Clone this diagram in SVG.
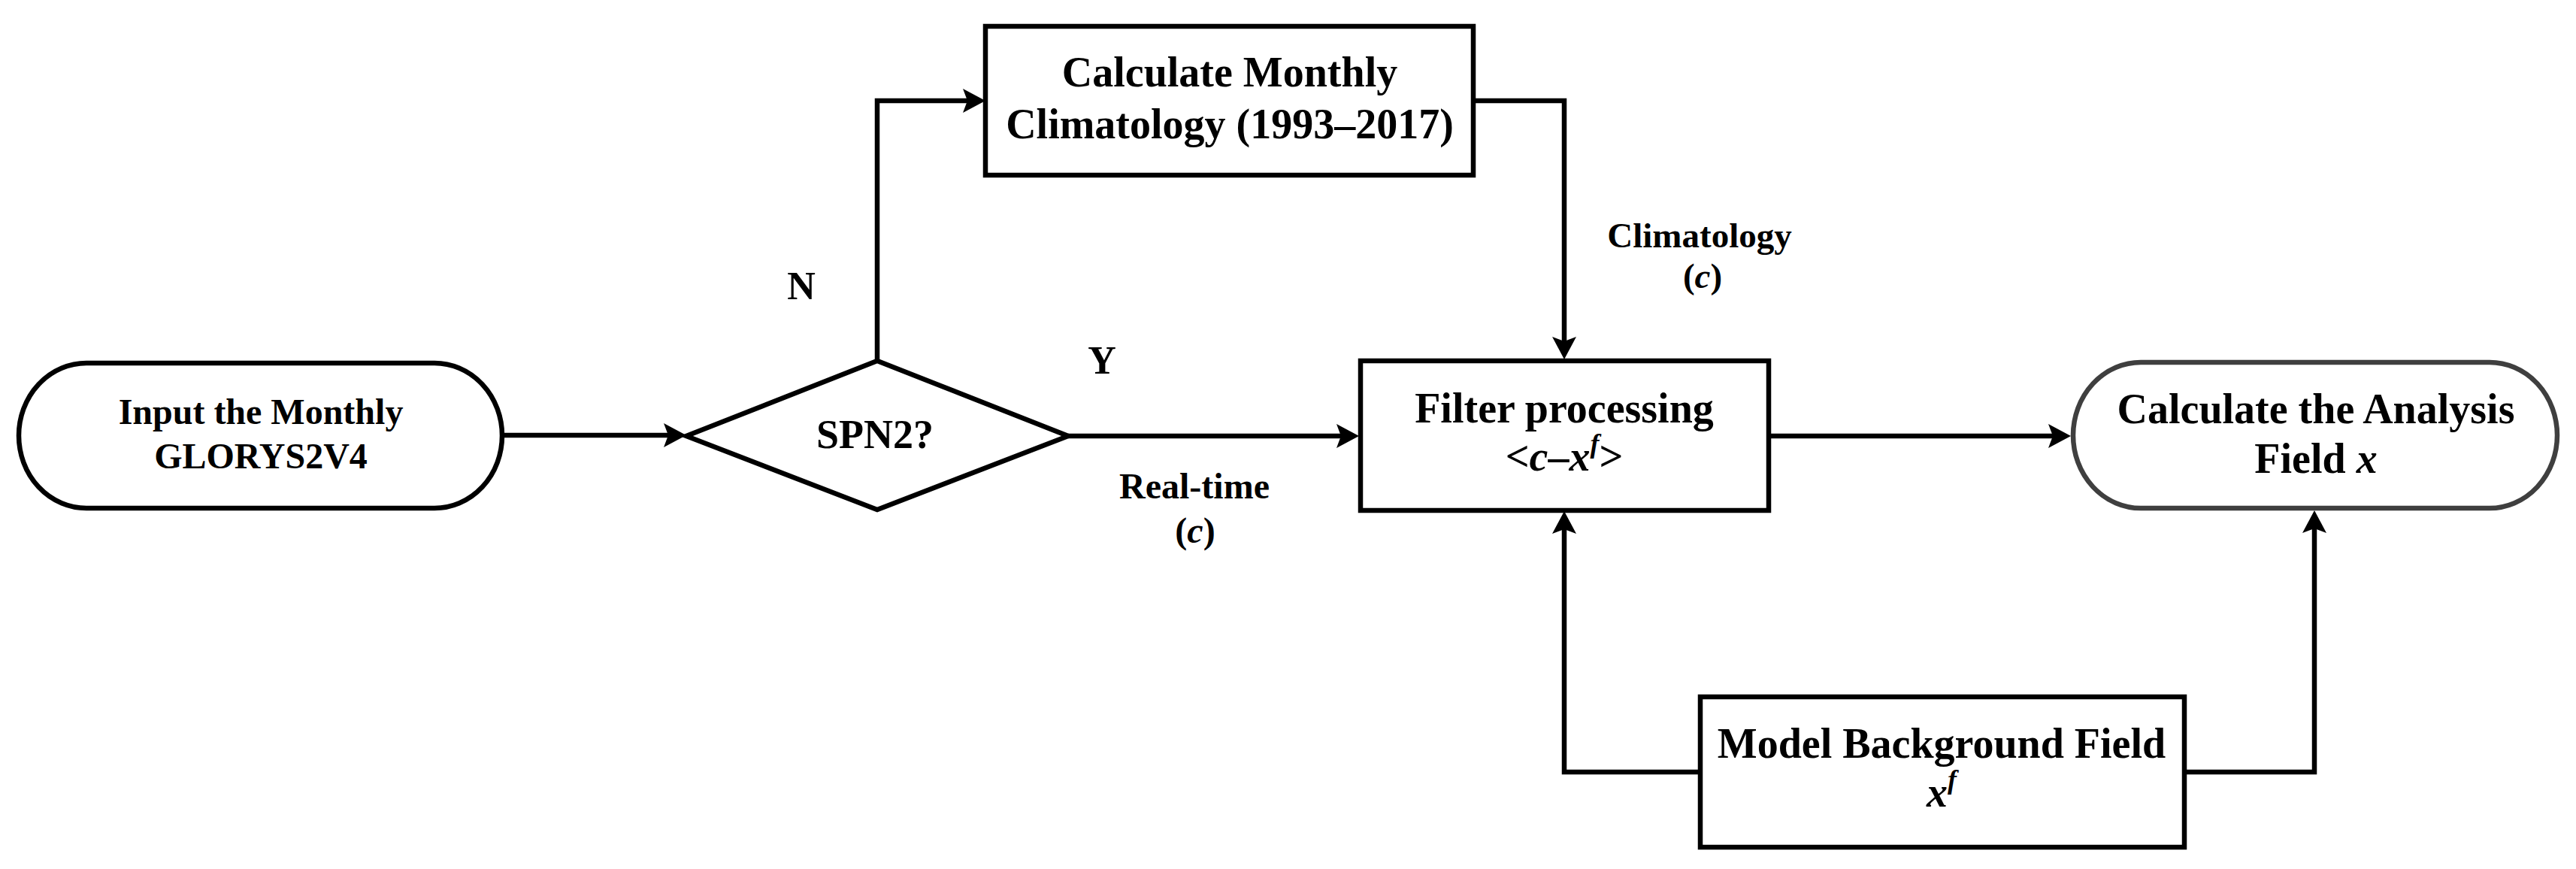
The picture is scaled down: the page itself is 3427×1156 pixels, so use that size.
<svg xmlns="http://www.w3.org/2000/svg" width="3427" height="1156" viewBox="0 0 3427 1156">
<style>
.shape{fill:#ffffff;stroke:#000000;stroke-width:6.5;stroke-linejoin:miter}
.gray{stroke:#3f3f3f}
.t{font-family:"Liberation Serif","Times New Roman",serif;font-weight:bold;fill:#000000;text-anchor:middle}
.conn{fill:none;stroke:#000000;stroke-width:6.5;stroke-linejoin:miter;marker-end:url(#arr)}
.it{font-style:italic}
</style>
<defs>
<marker id="arr" markerUnits="userSpaceOnUse" viewBox="-32 -18 34 36" markerWidth="34" markerHeight="36" refX="-20" refY="0" orient="auto">
<path d="M0,0 L-30,-16 L-24,0 L-30,16 Z" fill="#000000"/>
</marker>
</defs>
<rect width="3427" height="1156" fill="#ffffff"/>
<g id="connectors">
<path class="conn" d="M671,579 L893,579"/>
<path class="conn" d="M1167,480 L1167,134 L1291,134"/>
<path class="conn" d="M1960,134 L2081,134 L2081,458"/>
<path class="conn" d="M1421,580 L1788,580"/>
<path class="conn" d="M2353,580 L2735,580"/>
<path class="conn" d="M2262,1027 L2081,1027 L2081,700"/>
<path class="conn" d="M2906,1027 L3079,1027 L3079,699"/>
</g>
<g id="node-input">
<rect class="shape" x="25" y="483" width="643" height="193" rx="90" ry="96.5"/>
<text class="t" x="347" y="564" font-size="48">Input the Monthly</text>
<text class="t" x="347" y="623" font-size="48">GLORYS2V4</text>
</g>
<g id="node-decision">
<polygon class="shape" points="913,580 1167,480 1421,580 1167,678"/>
<text class="t" x="1164" y="596" font-size="54">SPN2?</text>
</g>
<g id="node-climatology">
<rect class="shape" x="1311" y="35" width="649" height="198"/>
<text class="t" x="1636" y="115" font-size="56">Calculate Monthly</text>
<text class="t" x="1636" y="184" font-size="56">Climatology (1993–2017)</text>
</g>
<g id="node-filter">
<rect class="shape" x="1810" y="480" width="543" height="199"/>
<text class="t" x="2081" y="562" font-size="56">Filter processing</text>
<text class="t" x="2081" y="626" font-size="56">&lt;<tspan class="it">c</tspan>–<tspan class="it">x</tspan><tspan class="it" font-size="36" dy="-24">f</tspan><tspan dy="24">&gt;</tspan></text>
</g>
<g id="node-analysis">
<rect class="shape gray" x="2758" y="482" width="644" height="194" rx="90" ry="97"/>
<text class="t" x="3081" y="563" font-size="56">Calculate the Analysis</text>
<text class="t" x="3081" y="629" font-size="56">Field <tspan class="it">x</tspan></text>
</g>
<g id="node-model">
<rect class="shape" x="2262" y="927" width="644" height="200"/>
<text class="t" x="2583" y="1008" font-size="56">Model Background Field</text>
<text class="t" x="2583" y="1073" font-size="56"><tspan class="it">x</tspan><tspan class="it" font-size="36" dy="-24">f</tspan></text>
</g>
<g id="labels">
<text class="t" x="1066" y="398" font-size="52">N</text>
<text class="t" x="1466" y="497" font-size="52">Y</text>
<text class="t" x="2261" y="329" font-size="47">Climatology</text>
<text class="t" x="2265" y="383" font-size="47">(<tspan class="it">c</tspan>)</text>
<text class="t" x="1589" y="663" font-size="48">Real-time</text>
<text class="t" x="1590" y="722" font-size="48">(<tspan class="it">c</tspan>)</text>
</g>
</svg>
